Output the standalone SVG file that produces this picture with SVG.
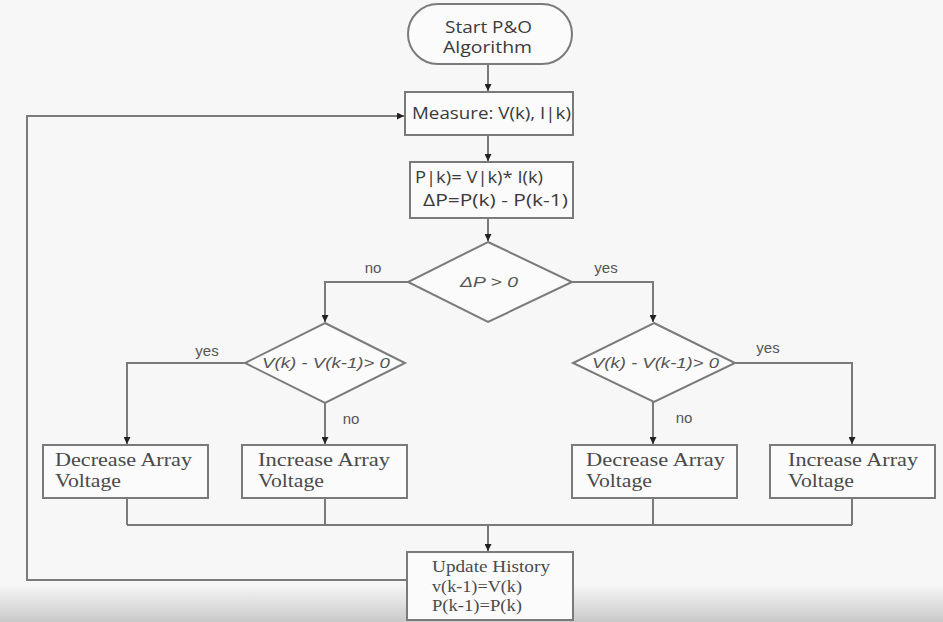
<svg xmlns="http://www.w3.org/2000/svg" width="943" height="622" viewBox="0 0 943 622">
<defs>
<linearGradient id="bot" x1="0" y1="0" x2="0" y2="1">
<stop offset="0" stop-color="#f6f6f6"/>
<stop offset="1" stop-color="#c9c9c9"/>
</linearGradient>
<marker id="ah" viewBox="0 0 10 10" refX="10" refY="5" markerWidth="7" markerHeight="7" markerUnits="userSpaceOnUse" orient="auto">
<path d="M0,0 L10,5 L0,10 z" fill="#222"/>
</marker>
</defs>
<style>
.shape{fill:#fbfbfb;stroke:#7a7a7a;stroke-width:2}
.line{fill:none;stroke:#7a7a7a;stroke-width:2}
.sans{font-family:"Open Sans","Liberation Sans",sans-serif;fill:#3a3a3a;font-size:16px}
.ital{font-family:"Liberation Sans",Arial,sans-serif;font-style:italic;fill:#555;font-size:15px}
.serif{font-family:"Liberation Serif","Times New Roman",serif;fill:#4a4a4a;font-size:19px}
.serifs{font-family:"Liberation Serif","Times New Roman",serif;fill:#4a4a4a;font-size:17px}
.lbl{font-family:"Liberation Sans",Arial,sans-serif;fill:#555;font-size:15px}
</style>
<rect x="0" y="0" width="943" height="622" fill="#f7f7f7"/>
<rect x="0" y="585" width="943" height="37" fill="url(#bot)"/>
<g id="connectors">
<line class="line" x1="488" y1="64" x2="488" y2="91" marker-end="url(#ah)"/>
<line class="line" x1="488" y1="135" x2="488" y2="161" marker-end="url(#ah)"/>
<line class="line" x1="488" y1="218" x2="488" y2="241" marker-end="url(#ah)"/>
<polyline class="line" points="408,282 325,282 325,322" marker-end="url(#ah)"/>
<polyline class="line" points="572,282 653,282 653,322" marker-end="url(#ah)"/>
<polyline class="line" points="245,363 127,363 127,444" marker-end="url(#ah)"/>
<line class="line" x1="325" y1="403" x2="325" y2="444" marker-end="url(#ah)"/>
<line class="line" x1="653" y1="402" x2="653" y2="444" marker-end="url(#ah)"/>
<polyline class="line" points="735,363 852,363 852,444" marker-end="url(#ah)"/>
<line class="line" x1="127" y1="498" x2="127" y2="525"/>
<line class="line" x1="325" y1="498" x2="325" y2="525"/>
<line class="line" x1="653" y1="498" x2="653" y2="525"/>
<line class="line" x1="852" y1="498" x2="852" y2="525"/>
<line class="line" x1="127" y1="525" x2="852" y2="525"/>
<line class="line" x1="488" y1="525" x2="488" y2="551" marker-end="url(#ah)"/>
<polyline class="line" points="407,580 27,580 27,116 404,116" marker-end="url(#ah)"/>
<text class="lbl" x="373" y="273" text-anchor="middle">no</text>
<text class="lbl" x="606" y="273" text-anchor="middle">yes</text>
<text class="lbl" x="207" y="356" text-anchor="middle">yes</text>
<text class="lbl" x="351" y="424" text-anchor="middle">no</text>
<text class="lbl" x="768" y="353" text-anchor="middle">yes</text>
<text class="lbl" x="684" y="423" text-anchor="middle">no</text>
</g>
<g id="start">
<rect class="shape" x="408" y="4" width="164" height="60" rx="30"/>
<text class="sans" x="445" y="33" textLength="87" lengthAdjust="spacingAndGlyphs">Start P&amp;O</text>
<text class="sans" x="443" y="53" textLength="89" lengthAdjust="spacingAndGlyphs">Algorithm</text>
</g>
<g id="measure">
<rect class="shape" x="405" y="92" width="168" height="43"/>
<text class="sans" x="412" y="119" textLength="159" lengthAdjust="spacingAndGlyphs">Measure: V(k), I|k)</text>
</g>
<g id="power">
<rect class="shape" x="410" y="162" width="163" height="56"/>
<text class="sans" x="415" y="183" textLength="128" lengthAdjust="spacingAndGlyphs">P|k)= V|k)* I(k)</text>
<text class="sans" x="423" y="206" textLength="145" lengthAdjust="spacingAndGlyphs">ΔP=P(k) - P(k-1)</text>
</g>
<g id="dp">
<polygon class="shape" points="488,242 572,282 488,322 408,282"/>
<text class="ital" x="460" y="287" textLength="58" lengthAdjust="spacingAndGlyphs">ΔP &gt; 0</text>
</g>
<g id="dvLeft">
<polygon class="shape" points="325,323 405,363 325,403 245,363"/>
<text class="ital" x="262" y="368" textLength="128" lengthAdjust="spacingAndGlyphs">V(k) - V(k-1)&gt; 0</text>
</g>
<g id="dvRight">
<polygon class="shape" points="654,323 735,363 654,402 573,363"/>
<text class="ital" x="592" y="368" textLength="127" lengthAdjust="spacingAndGlyphs">V(k) - V(k-1)&gt; 0</text>
</g>
<g id="decLeft">
<rect class="shape" x="43" y="445" width="165" height="53"/>
<text class="serif" x="55" y="466" textLength="137" lengthAdjust="spacingAndGlyphs">Decrease Array</text>
<text class="serif" x="55" y="487" textLength="66" lengthAdjust="spacingAndGlyphs">Voltage</text>
</g>
<g id="incLeft">
<rect class="shape" x="242" y="445" width="165" height="53"/>
<text class="serif" x="258" y="466" textLength="132" lengthAdjust="spacingAndGlyphs">Increase Array</text>
<text class="serif" x="258" y="487" textLength="66" lengthAdjust="spacingAndGlyphs">Voltage</text>
</g>
<g id="decRight">
<rect class="shape" x="572" y="445" width="165" height="53"/>
<text class="serif" x="586" y="466" textLength="139" lengthAdjust="spacingAndGlyphs">Decrease Array</text>
<text class="serif" x="586" y="487" textLength="66" lengthAdjust="spacingAndGlyphs">Voltage</text>
</g>
<g id="incRight">
<rect class="shape" x="770" y="445" width="165" height="53"/>
<text class="serif" x="788" y="466" textLength="130" lengthAdjust="spacingAndGlyphs">Increase Array</text>
<text class="serif" x="788" y="487" textLength="66" lengthAdjust="spacingAndGlyphs">Voltage</text>
</g>
<g id="update">
<rect class="shape" x="407" y="552" width="166" height="68"/>
<text class="serifs" x="432" y="572" textLength="118" lengthAdjust="spacingAndGlyphs">Update History</text>
<text class="serifs" x="432" y="592" textLength="90" lengthAdjust="spacingAndGlyphs">v(k-1)=V(k)</text>
<text class="serifs" x="432" y="611" textLength="90" lengthAdjust="spacingAndGlyphs">P(k-1)=P(k)</text>
</g>
</svg>
